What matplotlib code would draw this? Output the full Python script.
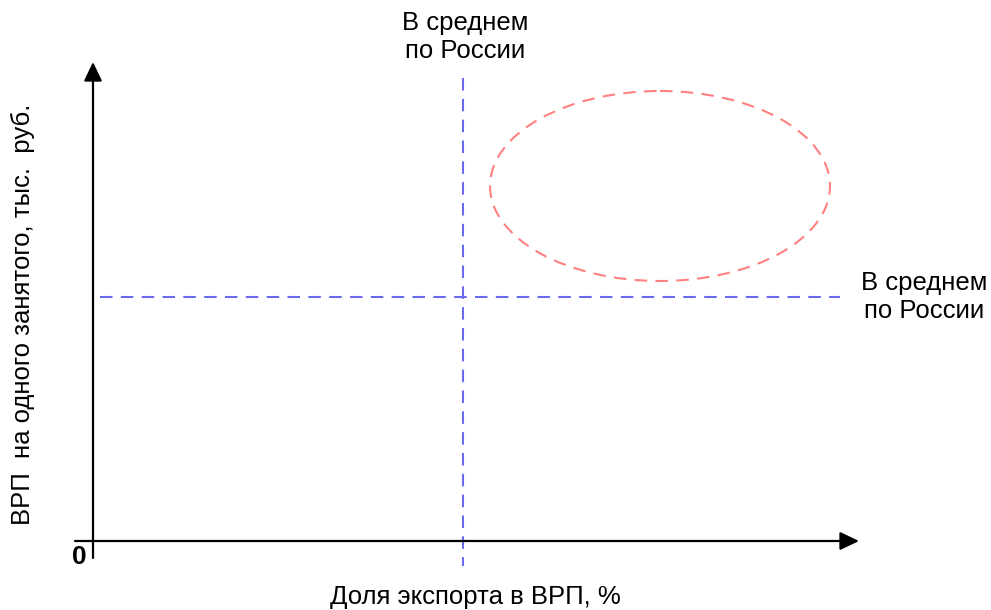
import numpy as np
import matplotlib
matplotlib.use("Agg")
import matplotlib.pyplot as plt
from matplotlib.patches import Ellipse

plt.rcParams['font.family'] = ['Liberation Sans', 'DejaVu Sans']

# schematic coordinates (pixel-like units, y grows downward)
origin = (93, 541)
x_axis_span = (75, 859)
y_axis_span = (558, 62)
avg_x = 463          # average export share
avg_x_span = (78, 566)
avg_y = 297          # average GRP per employee
avg_y_span = (100, 840)
ellipse_center = (660, 186)
ellipse_size = (340, 190)

avg_label = "В среднем\nпо России"
xlabel = "Доля экспорта в ВРП, %"
ylabel = "ВРП  на одного занятого, тыс.  руб."

fig = plt.figure(figsize=(9.91, 6.10), dpi=100)
ax = fig.add_axes([0, 0, 1, 1])
ax.set_xlim(0, 991)
ax.set_ylim(610, 0)
ax.axis('off')

arrow = dict(arrowstyle='-|>,head_length=1.15,head_width=0.55', color='black', lw=1.6,
             shrinkA=0, shrinkB=0)
ax.annotate('', xy=(x_axis_span[1], origin[1]), xytext=(x_axis_span[0], origin[1]),
            arrowprops=arrow)
ax.annotate('', xy=(origin[0], y_axis_span[1]), xytext=(origin[0], y_axis_span[0]),
            arrowprops=arrow)

blue = '#6a6aee'
ax.plot([avg_x, avg_x], avg_x_span, color=blue, lw=1.5, dashes=(6, 4))
ax.plot(avg_y_span, [avg_y, avg_y], color=blue, lw=1.5, dashes=(6, 4))

ax.add_patch(Ellipse(ellipse_center, ellipse_size[0], ellipse_size[1], fill=False,
                     edgecolor='#ff8080', lw=1.5, linestyle=(0, (6, 4))))

fs = 18.5
ax.text(465, 37, avg_label, ha='center', va='center', fontsize=fs, linespacing=1.25)
ax.text(924, 297, avg_label, ha='center', va='center', fontsize=fs, linespacing=1.25)
ax.text(475, 597, xlabel, ha='center', va='center', fontsize=fs)
ax.text(23, 314, ylabel, ha='center', va='center', rotation=90, fontsize=fs)
ax.text(79, 557, "0", ha='center', va='center', fontsize=19, fontweight='bold')

fig.savefig('out.png', dpi=100)
